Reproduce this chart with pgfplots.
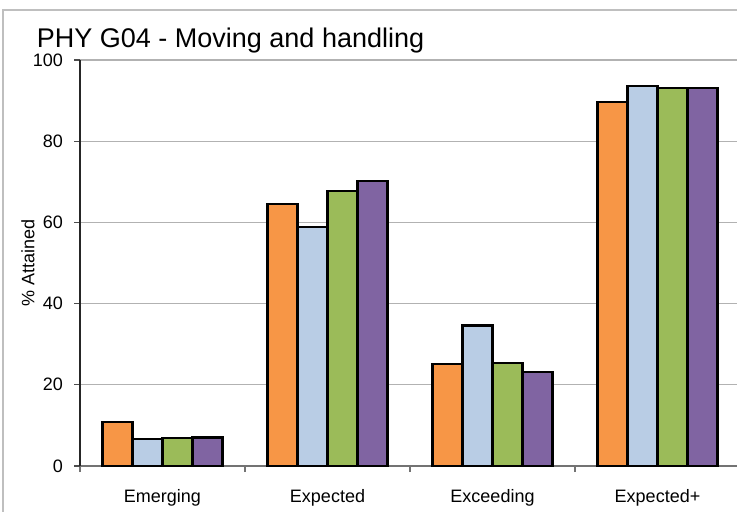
\documentclass[border=0pt]{standalone}
\usepackage{pgfplots}
\pgfplotsset{compat=1.18}
\usepackage{fontspec}
\setmainfont{Liberation Sans}
\definecolor{cOrange}{HTML}{F79646}
\definecolor{cBlue}{HTML}{B9CDE5}
\definecolor{cGreen}{HTML}{9BBB59}
\definecolor{cPurple}{HTML}{8064A2}
\begin{document}
\begin{tikzpicture}
% outer chart frame (only left and top edges fall inside the image)
\draw[black!25, line width=0.7pt] (1.5pt,-270pt) -- (1.5pt,-5pt) -- (380pt,-5pt);
\begin{axis}[
    at={(40pt,-233pt)}, anchor=south west,
    scale only axis,
    width=330pt, height=203pt,
    xmin=-0.5, xmax=3.5, ymin=0, ymax=100,
    ybar=0pt, bar width=15pt,
    axis x line*=bottom, axis y line*=left,
    x axis line style={black!55, line width=0.6pt},
    y axis line style={black!85, line width=0.6pt},
    xtick={0,1,2,3},
    xticklabels={Emerging, Expected, Exceeding, Expected+},
    minor xtick={-0.5,0.5,1.5,2.5,3.5},
    major x tick style={draw=none},
    minor x tick style={black!55, line width=0.6pt},
    minor tick length=3pt,
    ytick={0,20,...,100},
    y tick style={black!70, line width=0.6pt},
    major tick length=3pt,
    tick align=outside,
    ymajorgrids, grid style={black!30, line width=0.6pt},
    /pgf/number format/assume math mode=true,
    ticklabel style={font=\fontsize{9}{10}\selectfont},
    xticklabel style={yshift=-5pt},
    yticklabel style={xshift=-2pt},
    ylabel={\% Attained},
    ylabel style={font=\fontsize{9}{10}\selectfont, at={(axis description cs:-0.079,0.5)}, anchor=center},
    title={PHY G04 - Moving and handling},
    title style={font=\fontsize{13.5}{15}\selectfont, at={(axis description cs:-0.076,1.0)}, anchor=base west},
]
\addplot[fill=cOrange, draw=black, line width=1.1pt] coordinates {(0,10.8) (1,64.5) (2,25.1) (3,89.6)};
\addplot[fill=cBlue, draw=black, line width=1.1pt] coordinates {(0,6.6) (1,58.8) (2,34.6) (3,93.5)};
\addplot[fill=cGreen, draw=black, line width=1.1pt] coordinates {(0,6.9) (1,67.7) (2,25.4) (3,93.2)};
\addplot[fill=cPurple, draw=black, line width=1.1pt] coordinates {(0,7.0) (1,70.2) (2,23.1) (3,93.1)};
\end{axis}
\pgfresetboundingbox
\path[use as bounding box] (0pt,0pt) rectangle (368.5pt,-256pt);
\end{tikzpicture}
\end{document}
